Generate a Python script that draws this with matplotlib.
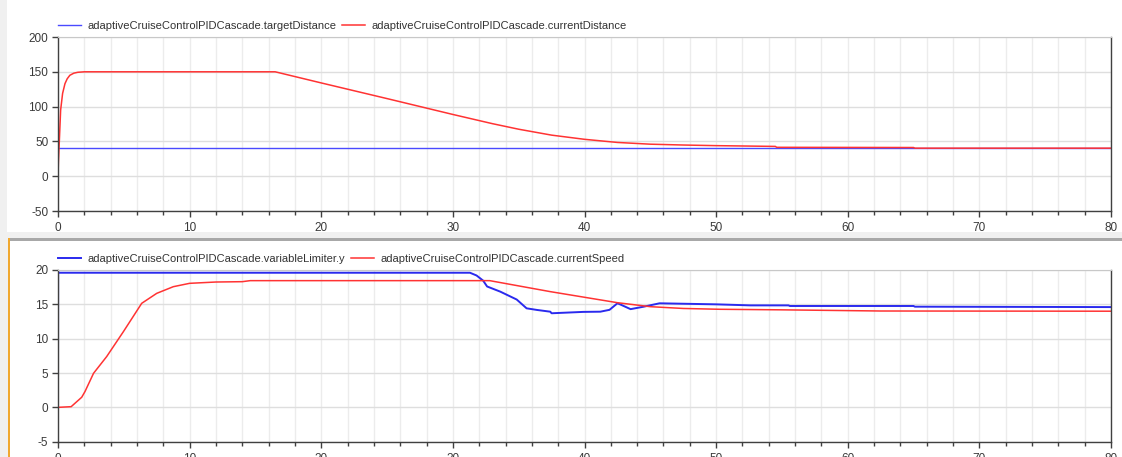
import matplotlib
matplotlib.use("Agg")
import matplotlib.pyplot as plt
from matplotlib.patches import Rectangle
from matplotlib.ticker import MultipleLocator

# ---------------- data ----------------
time_target = [0, 80]
target_distance = [40, 40]

time_dist = [0, 0.03, 0.1, 0.2, 0.35, 0.53, 0.7, 0.9, 1.2, 1.5, 2.0, 16.5, 20, 25, 30,
             33, 35, 37.5, 40, 42.5, 45, 47.5, 50, 54.5, 54.6, 65, 65.1, 80]
current_distance = [0, 20, 50, 95, 119, 133, 140, 145, 148, 149.3, 150, 150, 134, 111.5, 88.7,
                    75.5, 67.5, 59, 53, 48.5, 46, 44.8, 43.9, 42.8, 41.5, 41.2, 40.3, 40.3]

time_lim = [0, 0.01, 31.3, 31.8, 32.3, 32.6, 33.6, 34.85, 35.6, 36.4, 37.4, 37.5, 39.9, 41.2,
            41.9, 42.5, 42.7, 43.5, 44.5, 45.7, 50, 52.6, 55.5, 55.6, 65, 65.1, 80]
limiter_y = [0, 19.6, 19.6, 19.2, 18.45, 17.6, 16.85, 15.7, 14.42, 14.18, 13.93, 13.7, 13.9, 13.93,
             14.2, 15.15, 15.0, 14.3, 14.66, 15.15, 15.0, 14.85, 14.85, 14.76, 14.76, 14.66, 14.6]

time_speed = [0, 1.0, 1.8, 2.05, 2.7, 3.7, 4.96, 6.36, 7.5, 8.76, 10, 12, 14, 14.6, 31.5, 32.8,
              37.4, 42.5, 45, 47.5, 50.3, 55, 62.5, 80]
current_speed = [0, 0.1, 1.47, 2.3, 4.96, 7.4, 11.0, 15.15, 16.6, 17.57, 18.06, 18.25, 18.3, 18.45,
                 18.45, 18.45, 16.85, 15.24, 14.66, 14.4, 14.28, 14.2, 14.03, 14.0]

top_labels = ["adaptiveCruiseControlPIDCascade.targetDistance",
              "adaptiveCruiseControlPIDCascade.currentDistance"]
bottom_labels = ["adaptiveCruiseControlPIDCascade.variableLimiter.y",
                 "adaptiveCruiseControlPIDCascade.currentSpeed"]

# ---------------- figure ----------------
plt.rcParams['font.family'] = ['Liberation Sans', 'DejaVu Sans']
plt.rcParams['axes.unicode_minus'] = False
W, H = 1122, 457
fig = plt.figure(figsize=(W / 100, H / 100), dpi=100, facecolor='#f0f0f0')

def px(x0, y0, x1, y1):
    # pixel box (top-left origin) -> figure fraction rect
    return (x0 / W, 1 - y1 / H, (x1 - x0) / W, (y1 - y0) / H)

def add_rect(box, color, z):
    r = px(*box)
    fig.patches.append(Rectangle(r[:2], r[2], r[3], transform=fig.transFigure,
                                 facecolor=color, edgecolor='none', zorder=z))

# panel backgrounds
add_rect((7, 0, W, 232), 'white', -10)
add_rect((10, 241, W, H), 'white', -10)
add_rect((8, 238, W, 241), '#a8a8a8', -9)
add_rect((8, 238, 10, H), '#f0a830', -8)

ax1 = fig.add_axes(px(58, 37, 1111, 211))
ax2 = fig.add_axes(px(58, 270, 1111, 441.7))

RED = '#ff3333'

ax1.plot(time_target, target_distance, color='#4a4aff', lw=1.0, label=top_labels[0])
ax1.plot(time_dist, current_distance, color=RED, lw=1.1, label=top_labels[1])
ax1.set_ylim(-50, 200)
ax1.yaxis.set_major_locator(MultipleLocator(50))

ax2.plot(time_lim, limiter_y, color='#2a2aee', lw=1.4, label=bottom_labels[0])
ax2.plot(time_speed, current_speed, color=RED, lw=1.1, label=bottom_labels[1])
ax2.set_ylim(-5, 20)
ax2.yaxis.set_major_locator(MultipleLocator(5))

for ax in (ax1, ax2):
    ax.set_zorder(5)
    ax.set_facecolor('white')
    ax.set_xlim(0, 80)
    ax.xaxis.set_major_locator(MultipleLocator(10))
    ax.xaxis.set_minor_locator(MultipleLocator(2))
    ax.grid(True, which='both', axis='x', color='#ececec', lw=1.0)
    ax.grid(True, which='major', axis='y', color='#dedede', lw=1.0)
    ax.set_axisbelow(True)
    for s in ('left', 'bottom', 'right'):
        ax.spines[s].set_color('#404040')
        ax.spines[s].set_linewidth(1.0)
    ax.spines['top'].set_color('#c8c8c8')
    ax.tick_params(which='major', length=4, width=1, color='#404040',
                   labelsize=8.5, labelcolor='#3a3a3a', pad=3)
    ax.tick_params(which='minor', length=3, width=1, color='#404040')
    ax.tick_params(axis='x', which='major', pad=4)
    leg = ax.legend(loc='lower left', bbox_to_anchor=(0, 1.035), ncol=2, frameon=False,
                    fontsize=8, handlelength=2.1, handletextpad=0.6, columnspacing=0.45,
                    borderpad=0, borderaxespad=0)
    for t in leg.get_texts():
        t.set_color('#333333')

fig.savefig('out.png', dpi=100, facecolor=fig.get_facecolor())
